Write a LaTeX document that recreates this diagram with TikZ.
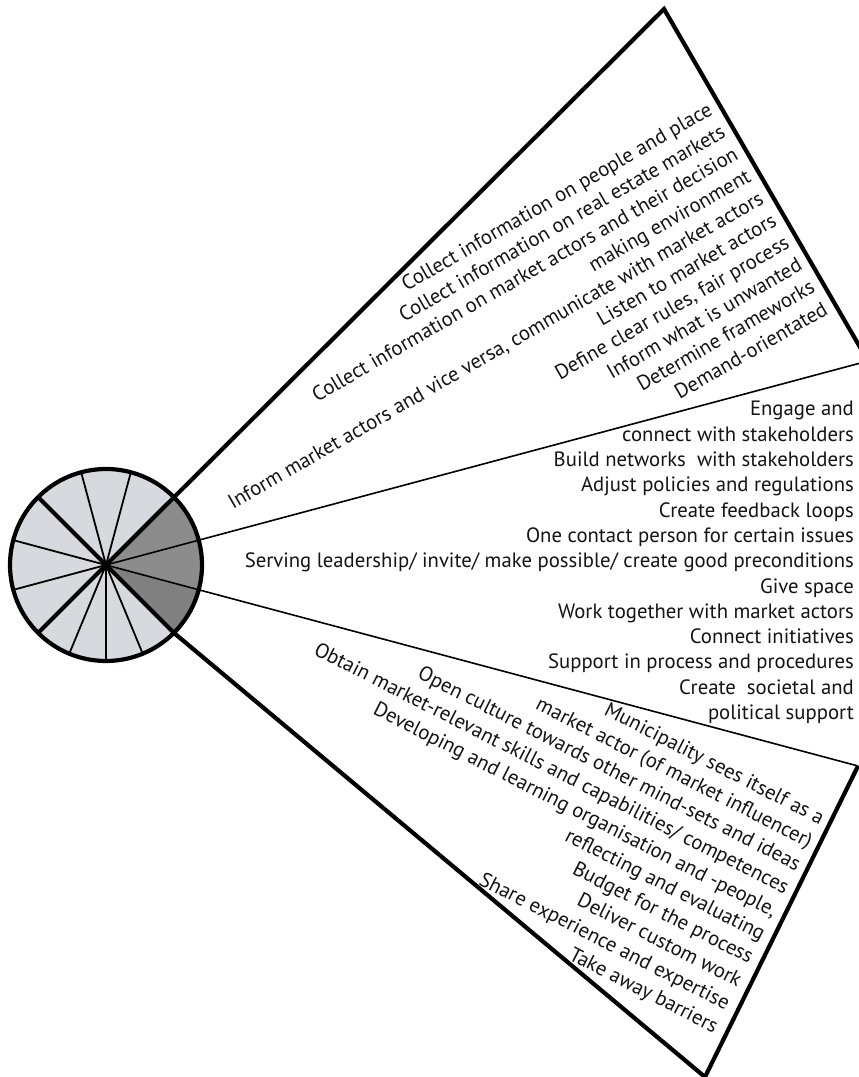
\documentclass[tikz,border=0pt]{standalone}
\usepackage{fontspec}
\setmainfont{PT Sans}
\usetikzlibrary{calc}
\definecolor{sectorlight}{rgb}{0.84,0.85,0.865}
\definecolor{sectordark}{gray}{0.55}
\definecolor{sectordarker}{gray}{0.50}
\definecolor{inktext}{gray}{0.08}
\newlength\servewidth
\begin{document}
% size the lettering so that the longest horizontal line is 609pt wide
\settowidth\servewidth{\fontsize{20}{24}\selectfont Serving leadership/ invite/ make possible/ create good preconditions}
\pgfmathsetmacro\labelsize{20*609/\servewidth}
\begin{tikzpicture}[x=1pt,y=1pt,
  thickline/.style={line width=4.2pt, line join=miter, line cap=butt},
  thinline/.style={line width=1.8pt},
  outerthin/.style={line width=1.6pt},
  label/.style={font=\fontsize{\labelsize}{\labelsize}\selectfont, text=inktext, inner sep=0pt},
]
\useasboundingbox (0,0) rectangle (859,1077);
\fill[white] (0,0) rectangle (859,1077);

% wheel centre and the corners of the three fans
\def\R{96}
\coordinate (C)  at (106,512);
\coordinate (A)  at (664,1068);  % apex of the upper fan
\coordinate (T3) at (868,716);   % far corner of the upper fan
\coordinate (B3) at (858,311);   % far corner of the lower fan
\coordinate (B)  at (705,0);     % apex of the lower fan
\coordinate (L)  at ($(C)+(-45:\R)$);

% sectors of the wheel
\foreach \a/\b/\c in {-45/-15/sectordarker,-15/15/sectordark,15/45/sectordark,
  45/75/sectorlight,75/105/sectorlight,105/135/sectorlight,
  135/165/sectorlight,165/195/sectorlight,195/225/sectorlight,
  225/247.5/sectorlight,247.5/270/sectorlight,270/292.5/sectorlight,292.5/315/sectorlight}
  \fill[\c] (C) -- ++(\a:\R) arc[start angle=\a, end angle=\b, radius=\R] -- cycle;

% thin dividers inside the wheel
\foreach \a in {75,105,165,195,247.5,270,292.5}
  \draw[thinline] (C) -- ++(\a:\R);

\begin{scope}
  \clip (0,0) rectangle (859,1077);
  % thin rays bounding the middle fan
  \draw[outerthin] (C) -- (T3);
  \draw[outerthin] (C) -- (B3);
  % thick outlines of the upper and lower fans
  \draw[thickline] (C) -- (A) -- (T3);
  \draw[thickline] (C) -- (L) -- (B) -- (B3);
\end{scope}
\draw[thickline] (C) -- ++(135:\R);
\draw[thickline] (C) -- ++(225:\R);
\draw[line width=4.2pt] (C) circle[radius=\R];

% upper fan
\begin{scope}[shift={(714,963)}, rotate=30]
  \foreach \t [count=\i from 0] in {
    {Collect information on people and place},
    {Collect information on real estate markets},
    {Collect information on market actors and their decision},
    {making environment},
    {Inform market actors and vice versa, communicate with market actors},
    {Listen to market actors},
    {Define clear rules, fair process},
    {Inform what is unwanted},
    {Determine frameworks},
    {Demand-orientated}}
    \node[label, transform shape, anchor=base east] (up-\i) at (0,{-25.6*\i}) {\t};
\end{scope}

% middle fan
\foreach \t [count=\i from 0] in {
  {Engage and\ },
  {connect with stakeholders},
  {Build networks\ \ with stakeholders},
  {Adjust policies and regulations},
  {Create feedback loops\ },
  {One contact person for certain issues},
  {Serving leadership/ invite/ make possible/ create good preconditions},
  {Give space},
  {Work together with market actors},
  {Connect initiatives},
  {Support in process and procedures},
  {Create\ \ societal and\ },
  {political support\ }}
  \node[label, anchor=base east] (mid-\i) at (854,{661-25.3*\i}) {\t};

% lower fan
\begin{scope}[shift={(820,252)}, rotate=-27]
  \foreach \t [count=\i from 0] in {
    {Municipality sees itself as a},
    {market actor (of market influencer)},
    {Open culture towards other mind-sets and ideas},
    {Obtain market-relevant skills and capabilities/ competences},
    {Developing and learning organisation and -people,},
    {reflecting and evaluating},
    {Budget for the process},
    {Deliver custom work},
    {Share experience and expertise},
    {Take away barriers}}
    \node[label, transform shape, anchor=base east] (low-\i) at (0,{-26*\i}) {\t};
\end{scope}
\end{tikzpicture}
\end{document}
